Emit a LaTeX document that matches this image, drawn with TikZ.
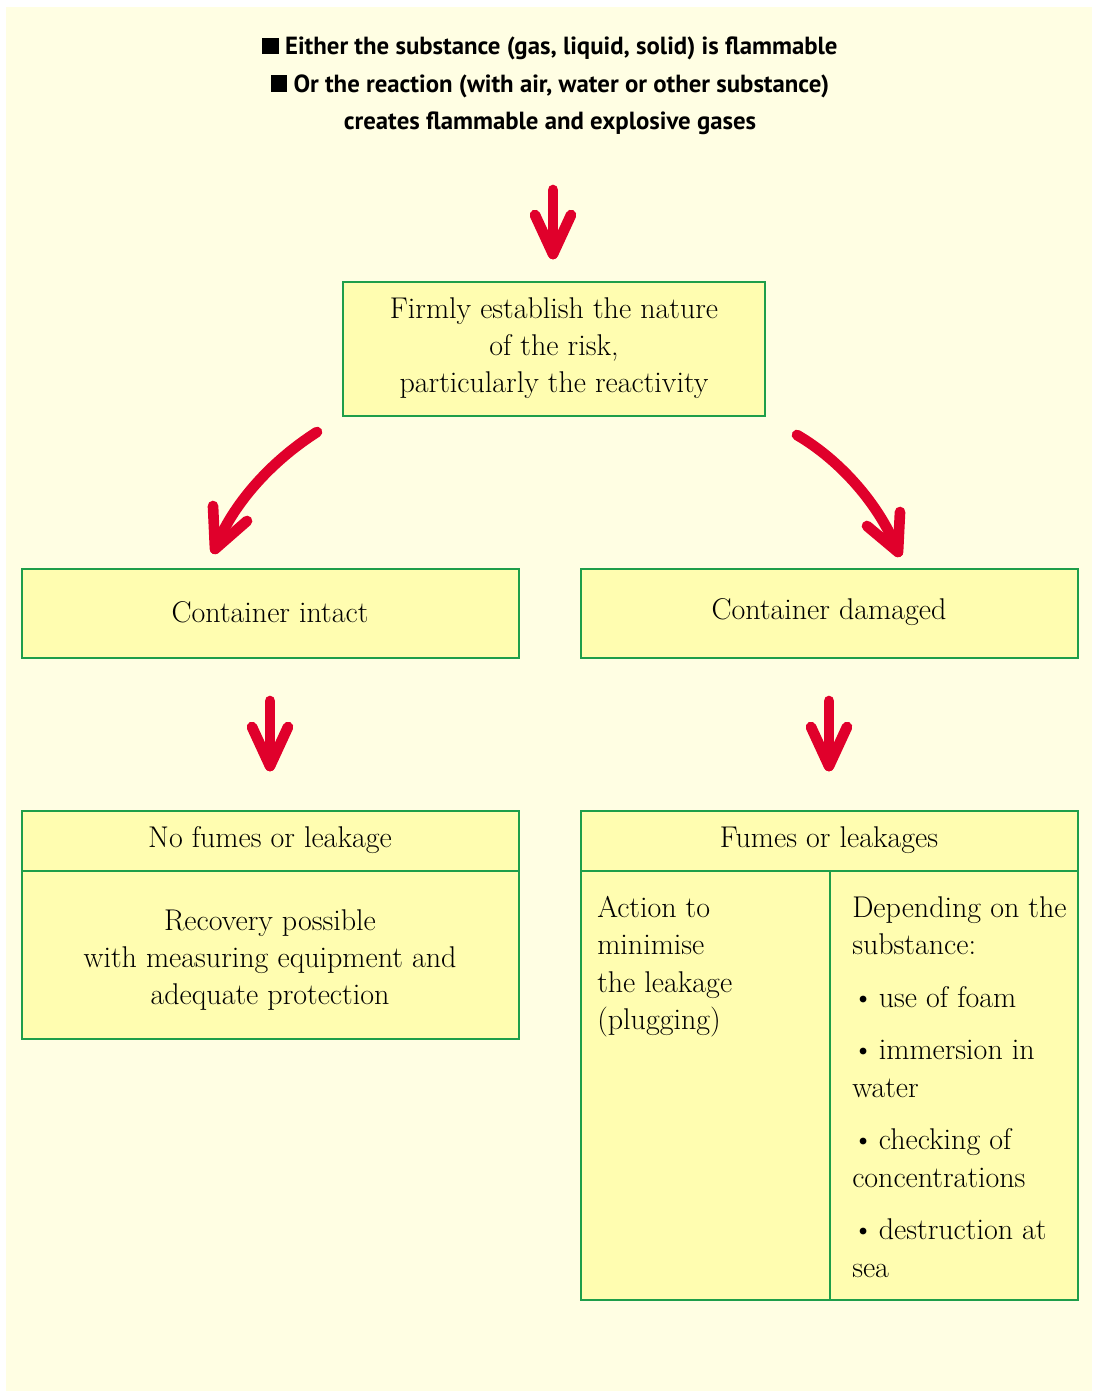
\documentclass[tikz,border=0pt]{standalone}
\usepackage{fontspec}
\newfontfamily\topfont{PT Sans}
\definecolor{bgy}{HTML}{FFFEE3}
\definecolor{boxy}{HTML}{FFFDB0}
\definecolor{boxg}{HTML}{1E9E4A}
\definecolor{arr}{HTML}{E0002B}
\tikzset{
  box/.style={draw=boxg, fill=boxy, line width=1.1pt},
  txt/.style={font=\fontsize{22.5}{28}\selectfont, inner sep=0pt},
  toptxt/.style={font=\topfont\bfseries\fontsize{18.6}{28}\selectfont, inner sep=0pt, align=center},
  redarrow/.style={draw=arr, line width=8pt, line cap=round, line join=round},
}
\newcommand{\sqbullet}{\rule[0.02em]{0.66em}{0.66em}\ }
\begin{document}
\begin{tikzpicture}[x=0.75pt, y=-0.75pt]
\useasboundingbox (0,0) rectangle (1092,1391);
\fill[white] (0,0) rectangle (1092,1391);
\fill[bgy] (6,7) rectangle (1092,1391);

% top text
\node[toptxt] (intro) at (550,86) {\sqbullet Either the substance (gas, liquid, solid) is flammable\\
\sqbullet Or the reaction (with air, water or other substance)\\
creates flammable and explosive gases};

% boxes
\draw[box] (343,282) rectangle (765,416);
\draw[box] (22,569) rectangle (519,658);
\draw[box] (581,569) rectangle (1078,658);
\draw[box] (22,811) rectangle (519,1039);
\draw[box] (22,871) -- (519,871);
\draw[box] (581,811) rectangle (1078,1300);
\draw[box] (581,871) -- (1078,871);
\draw[box] (830,871) -- (830,1300);

% texts
\node[txt, align=center] (risk) at (554,348) {Firmly establish the nature\\of the risk,\\particularly the reactivity};
\node[txt] (intact) at (270,612) {Container intact};
\node[txt] (damaged) at (829,612) {Container damaged};
\node[txt] (nofumes) at (270,840) {No fumes or leakage};
\node[txt, align=center] (recovery) at (270,960) {Recovery possible\\with measuring equipment and\\adequate protection};
\node[txt] (fumes) at (829,840) {Fumes or leakages};
\node[txt, align=left, anchor=north west] (action) at (597,896) {Action to\\minimise\\the leakage\\(plugging)};
\node[txt, align=left, anchor=north west] (depending) at (852,896) {Depending on the\\substance:\\[11.5pt]
\textbullet\,use of foam\\[11.5pt]
\textbullet\,immersion in\\water\\[11.5pt]
\textbullet\,checking of\\concentrations\\[11.5pt]
\textbullet\,destruction at\\sea};

% arrows
\coordinate (a1s) at (553,190); \coordinate (a1t) at (553,254);
\draw[redarrow] (a1s) -- (a1t);
\draw[redarrow] (535,215) -- (a1t) -- (571,215);

\coordinate (a2s) at (317,432); \coordinate (a2t) at (215,549);
\draw[redarrow] (a2s) .. controls (270,462) and (232,505) .. (a2t);
\draw[redarrow] (213,506) -- (a2t) -- (247,521);

\coordinate (a3s) at (797,435); \coordinate (a3t) at (898,552);
\draw[redarrow] (a3s) .. controls (840,460) and (880,505) .. (a3t);
\draw[redarrow] (900,512) -- (a3t) -- (867,526);

\coordinate (a4s) at (270,701); \coordinate (a4t) at (270,766);
\draw[redarrow] (a4s) -- (a4t);
\draw[redarrow] (252,727) -- (a4t) -- (288,727);

\coordinate (a5s) at (829,701); \coordinate (a5t) at (829,766);
\draw[redarrow] (a5s) -- (a5t);
\draw[redarrow] (811,727) -- (a5t) -- (847,727);
\end{tikzpicture}
\end{document}
